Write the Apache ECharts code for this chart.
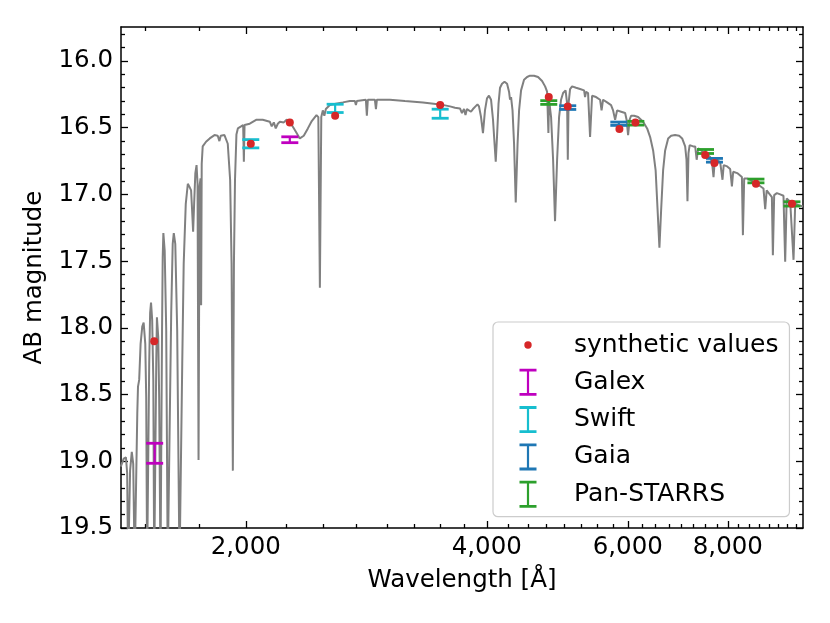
<!DOCTYPE html>
<html>
<head>
<meta charset="utf-8">
<script src="https://cdn.jsdelivr.net/npm/echarts@6.0.0/dist/echarts.min.js"></script>
<style>
html, body { margin: 0; padding: 0; background: #fff; }
#chart { width: 830px; height: 623px; }
</style>
</head>
<body>
<div id="chart"></div>
<script>
// model spectrum (wavelength in A, AB mag)
var specWave = [1396, 1408, 1417, 1422, 1426, 1430, 1434, 1441, 1447, 1453, 1457, 1464, 1467, 1472, 1478, 1485, 1491, 1498, 1502, 1506,
  1511, 1515, 1519, 1523, 1528, 1533, 1537, 1541, 1546, 1549, 1555, 1559, 1565, 1568, 1572, 1575, 1578, 1584, 1591, 1598,
  1607, 1614, 1621, 1626, 1633, 1642, 1653, 1659, 1666, 1673, 1683, 1693, 1700, 1709, 1714, 1719, 1724, 1730, 1736, 1741,
  1746, 1751, 1756, 1759, 1762, 1767, 1784, 1803, 1828, 1845, 1854, 1861, 1881, 1899, 1912, 1920, 1927, 1933, 1939, 1947,
  1955, 1973, 1985, 1989, 1993, 2002, 2023, 2063, 2100, 2143, 2155, 2168, 2180, 2193, 2206, 2231, 2249, 2270, 2283, 2310,
  2336, 2363, 2391, 2418, 2451, 2464, 2475, 2485, 2496, 2507, 2518, 2547, 2591, 2644, 2698, 2737, 2745, 2753, 2825, 2833,
  2841, 2899, 2908, 2916, 3027, 3161, 3329, 3496, 3598, 3650, 3703, 3724, 3746, 3762, 3778, 3822, 3844, 3872, 3894, 3911,
  3934, 3956, 3979, 4002, 4025, 4049, 4072, 4090, 4104, 4119, 4137, 4155, 4179, 4209, 4240, 4264, 4276, 4289, 4307, 4326,
  4347, 4370, 4389, 4414, 4452, 4491, 4529, 4582, 4635, 4689, 4730, 4757, 4775, 4784, 4812, 4840, 4867, 4896, 4924, 4952,
  4981, 5017, 5039, 5049, 5060, 5082, 5112, 5170, 5230, 5291, 5306, 5321, 5352, 5383, 5414, 5477, 5540, 5564, 5588, 5653,
  5718, 5751, 5785, 5818, 5886, 5954, 5979, 6005, 6031, 6057, 6110, 6181, 6270, 6343, 6398, 6453, 6500, 6537, 6571, 6603,
  6641, 6680, 6738, 6796, 6875, 6955, 7015, 7076, 7103, 7123, 7144, 7168, 7241, 7283, 7314, 7346, 7410, 7474, 7539, 7604,
  7648, 7677, 7703, 7759, 7826, 7878, 7905, 7985, 8054, 8094, 8124, 8218, 8330, 8354, 8385, 8451, 8531, 8697, 8863, 8907,
  8945, 8992, 9080, 9106, 9140, 9212, 9300, 9388, 9434, 9475, 9524, 9571, 9663, 9710, 9803, 9928];
var specMag = [19.04, 18.98, 18.97, 19.09, 19.8, 19.8, 19.07, 18.93, 19.02, 19.8, 19.8, 18.64, 18.44, 18.39, 18.12, 17.99, 17.96, 18.12, 18.52, 19.8,
  19.8, 18.27, 17.89, 17.81, 17.94, 18.39, 19.8, 19.8, 18.27, 17.92, 18.07, 18.52, 19.8, 19.8, 18.02, 17.47, 17.29, 17.42, 18.02, 19.8,
  19.8, 17.89, 17.37, 17.29, 17.37, 18.02, 19.8, 19.8, 18.27, 17.52, 17.07, 16.92, 16.94, 16.97, 17.12, 17.28, 17.07, 16.84, 16.78, 16.92,
  18.99, 16.94, 16.88, 17.83, 16.77, 16.64, 16.605, 16.58, 16.555, 16.56, 16.60, 16.56, 16.555, 16.62, 16.89, 17.52, 19.07, 17.52, 16.89, 16.55,
  16.505, 16.49, 16.48, 16.755, 16.48, 16.47, 16.47, 16.44, 16.44, 16.455, 16.49, 16.46, 16.505, 16.47, 16.455, 16.46, 16.44, 16.45, 16.48, 16.53,
  16.58, 16.56, 16.505, 16.45, 16.405, 16.42, 17.70, 16.42, 16.37, 16.41, 16.36, 16.33, 16.32, 16.31, 16.30, 16.30, 16.33, 16.30, 16.29, 16.41,
  16.29, 16.29, 16.36, 16.29, 16.29, 16.30, 16.31, 16.325, 16.34, 16.35, 16.355, 16.39, 16.36, 16.405, 16.36, 16.38, 16.36, 16.34, 16.325, 16.34,
  16.42, 16.54, 16.37, 16.28, 16.26, 16.29, 16.44, 16.62, 16.755, 16.57, 16.32, 16.20, 16.17, 16.155, 16.17, 16.23, 16.29, 16.27, 16.37, 16.62,
  17.06, 16.62, 16.37, 16.22, 16.14, 16.12, 16.11, 16.11, 16.12, 16.15, 16.19, 16.23, 16.54, 16.29, 16.42, 16.74, 17.20, 16.74, 16.42, 16.29,
  16.24, 16.22, 16.32, 16.74, 16.32, 16.21, 16.19, 16.20, 16.21, 16.22, 16.27, 16.23, 16.24, 16.57, 16.26, 16.27, 16.29, 16.37, 16.29, 16.31,
  16.33, 16.37, 16.44, 16.37, 16.38, 16.39, 16.44, 16.555, 16.44, 16.41, 16.41, 16.42, 16.455, 16.505, 16.57, 16.67, 16.82, 17.12, 17.40, 17.12,
  16.82, 16.67, 16.58, 16.56, 16.555, 16.56, 16.58, 16.64, 16.74, 17.05, 16.69, 16.63, 16.64, 16.64, 16.74, 16.655, 16.67, 16.69, 16.70, 16.72,
  16.77, 16.87, 16.755, 16.74, 16.76, 16.89, 16.78, 16.79, 16.81, 16.94, 16.83, 16.84, 16.87, 17.305, 16.88, 16.88, 16.89, 16.92, 16.955, 17.11,
  16.97, 16.98, 17.02, 17.455, 17.005, 16.99, 17.00, 17.01, 17.505, 17.03, 17.04, 17.055, 17.49, 17.07, 17.08, 17.09];

// synthetic photometry
var synthWave = [1537, 2029, 2270, 2586, 3498, 4780, 5048, 5857, 6133, 7495, 7698, 8673, 9620];
var synthMag = [18.10, 16.62, 16.46, 16.41, 16.33, 16.27, 16.34, 16.51, 16.46, 16.705, 16.765, 16.92, 17.07];

// observed photometry with errors
var galexWave = [1539, 2270];
var galexMag = [18.94, 16.59];
var galexErr = [0.075, 0.022];
var swiftWave = [2029, 2586, 3498];
var swiftMag = [16.62, 16.355, 16.395];
var swiftErr = [0.031, 0.031, 0.034];
var gaiaWave = [5048, 5847, 7698];
var gaiaMag = [16.349, 16.47, 16.744];
var gaiaErr = [0.014, 0.0125, 0.014];
var ps1Wave = [4780, 6140, 7502, 8673, 9620];
var ps1Mag = [16.311, 16.466, 16.678, 16.899, 17.071];
var ps1Err = [0.014, 0.014, 0.015, 0.014, 0.016];

var xTickLabels = [2000, 4000, 6000, 8000];
var yTickLabels = [16.0, 16.5, 17.0, 17.5, 18.0, 18.5, 19.0, 19.5];

var FONT = 'DejaVu Sans';
var xMin = Math.log10(1397), xMax = Math.log10(9930);
var yMin = 15.745, yMax = 19.5;

// minor ticks: every 250 A on x, every 0.1 mag on y
var xMinor = [];
for (var w = 1500; w < 10000; w += 250) if (w % 2000 !== 0) xMinor.push(Math.log10(w));
var yMinor = [];
for (var i = 158; i <= 194; i++) if (i % 5 !== 0) yMinor.push(i / 10);
var xMajor = xTickLabels.map(function (v) { return Math.log10(v); });

function pairs(wave, mag) {
  return wave.map(function (w, k) { return [Math.log10(w), mag[k]]; });
}
function triples(wave, mag, err) {
  return wave.map(function (w, k) { return [Math.log10(w), mag[k], err[k]]; });
}

function errRender(params, api) {
  var x = api.value(0), y = api.value(1), e = api.value(2);
  var top = api.coord([x, y - e]);
  var bot = api.coord([x, y + e]);
  var c = api.visual('color');
  var hw = 8.5;
  return {
    type: 'group',
    children: [
      { type: 'line', shape: { x1: top[0], y1: top[1], x2: bot[0], y2: bot[1] }, style: { stroke: c, lineWidth: 2.2 } },
      { type: 'line', shape: { x1: top[0] - hw, y1: top[1], x2: top[0] + hw, y2: top[1] }, style: { stroke: c, lineWidth: 2.8 } },
      { type: 'line', shape: { x1: bot[0] - hw, y1: bot[1], x2: bot[0] + hw, y2: bot[1] }, style: { stroke: c, lineWidth: 2.8 } }
    ]
  };
}

function xAx(pos, ticks, len, line, labels) {
  return {
    type: 'value', gridIndex: 0, position: pos, min: xMin, max: xMax,
    axisLine: { show: line, onZero: false, lineStyle: { color: '#000', width: 1.5 } },
    axisTick: { show: true, inside: true, length: len, customValues: ticks, lineStyle: { color: '#000', width: 1.3 } },
    axisLabel: labels ? {
      show: true, customValues: xMajor, margin: 7, color: '#000', fontSize: 24.5, fontFamily: FONT,
      formatter: function (v) { return String(Math.round(Math.pow(10, v))).replace(/\B(?=(\d{3})+(?!\d))/g, ','); }
    } : { show: false },
    splitLine: { show: false }
  };
}
function yAx(pos, ticks, len, line, labels) {
  return {
    type: 'value', gridIndex: 0, position: pos, min: yMin, max: yMax, inverse: true,
    axisLine: { show: line, onZero: false, lineStyle: { color: '#000', width: 1.5 } },
    axisTick: { show: true, inside: true, length: len, customValues: ticks, lineStyle: { color: '#000', width: 1.3 } },
    axisLabel: labels ? {
      show: true, customValues: yTickLabels, margin: 8, color: '#000', fontSize: 24.5, fontFamily: FONT,
      formatter: function (v) { return v.toFixed(1); }
    } : { show: false },
    splitLine: { show: false }
  };
}

var xAxes = [xAx('bottom', xMajor, 7, true, true), xAx('bottom', xMinor, 4, false, false),
  xAx('top', xMajor, 7, true, false), xAx('top', xMinor, 4, false, false)];
xAxes[0].name = 'Wavelength [Å]';
xAxes[0].nameLocation = 'middle';
xAxes[0].nameGap = 40;
xAxes[0].nameTextStyle = { color: '#000', fontSize: 24.5, fontFamily: FONT };

var yAxes = [yAx('left', yTickLabels, 7, true, true), yAx('left', yMinor, 4, false, false),
  yAx('right', yTickLabels, 7, true, false), yAx('right', yMinor, 4, false, false)];
yAxes[0].name = 'AB magnitude';
yAxes[0].nameLocation = 'middle';
yAxes[0].nameGap = 70;
yAxes[0].nameTextStyle = { color: '#000', fontSize: 24.5, fontFamily: FONT };

var barIcon = 'path://M0,0M71,27M21.5,0H38.5V2.8H31.1V24.2H38.5V27H21.5V24.2H28.9V2.8H21.5Z';
var dotIcon = 'path://M0,0M71,27M33.7,13.5A3.7,3.7,0,1,1,26.3,13.5A3.7,3.7,0,1,1,33.7,13.5Z';

var option = {
  animation: false,
  backgroundColor: '#fff',
  grid: { left: 121, top: 27, width: 682, height: 501, outerBoundsMode: 'none' },
  xAxis: xAxes,
  yAxis: yAxes,
  legend: {
    orient: 'vertical', left: 493, top: 322,
    padding: [9.5, 11, 9, 5], itemGap: 10.3, itemWidth: 71, itemHeight: 27,
    backgroundColor: 'rgba(255,255,255,0.8)', borderColor: '#cccccc', borderWidth: 1.2, borderRadius: 5,
    selectedMode: false,
    itemStyle: { borderWidth: 0 },
    textStyle: { color: '#000', fontSize: 25, fontFamily: FONT },
    data: [
      { name: 'synthetic values', icon: dotIcon },
      { name: 'Galex', icon: barIcon },
      { name: 'Swift', icon: barIcon },
      { name: 'Gaia', icon: barIcon },
      { name: 'Pan-STARRS', icon: barIcon }
    ]
  },
  series: [
    {
      name: 'spectrum', type: 'line', data: pairs(specWave, specMag), showSymbol: false, clip: true,
      lineStyle: { color: '#808080', width: 2 }, itemStyle: { color: '#808080' }, z: 2
    },
    { name: 'Galex', type: 'custom', renderItem: errRender, data: triples(galexWave, galexMag, galexErr), itemStyle: { color: '#bf00bf' }, encode: { x: 0, y: 1 }, z: 3 },
    { name: 'Swift', type: 'custom', renderItem: errRender, data: triples(swiftWave, swiftMag, swiftErr), itemStyle: { color: '#17becf' }, encode: { x: 0, y: 1 }, z: 3 },
    { name: 'Gaia', type: 'custom', renderItem: errRender, data: triples(gaiaWave, gaiaMag, gaiaErr), itemStyle: { color: '#1f77b4' }, encode: { x: 0, y: 1 }, z: 3 },
    { name: 'Pan-STARRS', type: 'custom', renderItem: errRender, data: triples(ps1Wave, ps1Mag, ps1Err), itemStyle: { color: '#2ca02c' }, encode: { x: 0, y: 1 }, z: 3 },
    {
      name: 'synthetic values', type: 'scatter', data: pairs(synthWave, synthMag), symbolSize: 8,
      itemStyle: { color: '#d62728', opacity: 1 }, z: 5
    }
  ]
};

echarts.init(document.getElementById('chart'), null, { renderer: 'canvas' }).setOption(option);
</script>
</body>
</html>
